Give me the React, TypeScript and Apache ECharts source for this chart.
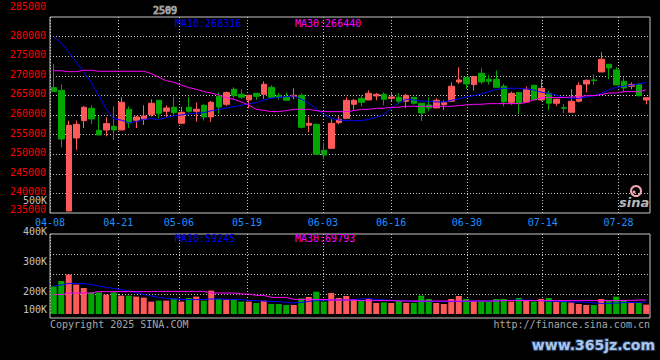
import React, { useEffect, useRef } from 'react';
import * as echarts from 'echarts';

const title = '2509';

const dates = [
  '04-08','04-09','04-10','04-11','04-14','04-15','04-16','04-17','04-18','04-21',
  '04-22','04-23','04-24','04-25','04-28','04-29','04-30','05-06','05-07','05-08',
  '05-09','05-12','05-13','05-14','05-15','05-16','05-19','05-20','05-21','05-22',
  '05-23','05-26','05-27','05-28','05-29','05-30','06-03','06-04','06-05','06-06',
  '06-09','06-10','06-11','06-12','06-13','06-16','06-17','06-18','06-19','06-20',
  '06-23','06-24','06-25','06-26','06-27','06-30','07-01','07-02','07-03','07-04',
  '07-07','07-08','07-09','07-10','07-11','07-14','07-15','07-16','07-17','07-18',
  '07-21','07-22','07-23','07-24','07-25','07-28','07-29','07-30','07-31','08-01',
];

const tickDates = ['04-08','04-21','05-06','05-19','06-03','06-16','06-30','07-14','07-28'];

const priceMin = 235000;
const priceMax = 285000;
const priceStep = 5000;

const volTickLabels = ['500K', '400K', '300K', '200K', '100K'];

// [open, close, low, high]
const candles = [
  [266990, 265970, 265970, 273020],
  [266300, 253880, 251760, 267840],
  [235510, 257370, 235510, 258560],
  [254140, 257630, 251080, 258560],
  [258560, 261970, 256690, 262300],
  [261710, 258990, 257710, 262480],
  [256100, 254900, 254900, 259750],
  [256180, 257800, 254560, 259410],
  [257120, 256180, 253630, 262220],
  [256180, 263240, 256180, 264520],
  [261460, 257970, 256690, 262220],
  [258650, 259500, 256690, 259750],
  [258900, 259750, 257460, 262480],
  [260090, 262990, 259580, 264010],
  [263750, 260430, 259160, 263750],
  [260950, 261800, 259410, 262480],
  [261970, 260600, 260090, 264600],
  [257880, 260690, 257880, 262140],
  [261970, 260950, 260600, 264600],
  [260950, 261460, 258310, 263160],
  [262480, 259500, 258560, 262740],
  [259500, 263240, 258220, 263580],
  [264770, 262050, 260350, 265790],
  [262730, 265710, 262310, 265960],
  [266560, 264940, 264260, 267070],
  [265280, 264520, 264180, 266560],
  [263840, 265030, 261710, 265030],
  [265540, 264770, 263840, 265540],
  [265280, 267840, 264090, 268600],
  [267070, 264520, 264520, 267580],
  [264940, 264520, 263920, 265620],
  [264690, 263750, 263750, 265710],
  [264690, 265030, 264010, 266810],
  [265030, 256860, 256610, 265540],
  [257370, 257880, 255590, 259580],
  [257630, 249970, 249970, 257630],
  [250990, 249800, 248690, 252950],
  [251500, 257880, 251330, 258900],
  [258050, 258900, 257630, 259670],
  [259160, 263750, 259160, 264520],
  [262730, 263750, 261280, 264090],
  [264260, 263240, 262220, 265030],
  [263840, 265540, 263840, 266300],
  [264860, 265280, 263750, 265620],
  [265280, 264010, 262480, 265790],
  [264260, 264600, 263500, 265790],
  [264520, 263500, 262820, 265540],
  [263500, 265030, 261800, 265370],
  [264520, 262990, 262650, 264520],
  [262990, 260520, 258480, 262990],
  [262560, 261800, 260950, 264520],
  [261800, 263750, 261800, 264260],
  [262650, 263160, 261280, 263750],
  [263500, 267330, 263500, 268350],
  [268430, 268940, 267920, 272170],
  [269620, 267920, 266640, 269620],
  [267750, 269790, 266220, 269790],
  [270640, 268430, 267920, 271920],
  [269110, 268600, 267750, 270130],
  [269110, 267070, 267070, 271410],
  [267330, 263330, 262220, 267920],
  [263240, 265540, 262650, 265960],
  [265710, 262990, 260260, 265880],
  [263330, 266560, 263330, 267240],
  [267580, 263840, 263840, 267580],
  [263840, 266810, 263500, 269110],
  [265540, 262990, 261200, 266220],
  [262990, 264010, 262310, 264180],
  [261880, 261710, 260430, 262730],
  [260690, 263500, 260690, 266560],
  [263500, 267580, 263240, 268350],
  [267920, 268860, 265790, 269030],
  [268940, 268770, 267750, 270390],
  [270980, 274220, 270980, 276000],
  [272940, 272000, 269200, 272940],
  [271490, 267670, 267670, 272170],
  [268600, 266900, 265790, 269620],
  [267330, 267750, 266560, 268350],
  [267750, 264940, 264690, 268090],
  [263840, 264430, 262730, 264430],
];

const ma10 = [
  280000, 278300, 276000, 273500, 271000, 268300, 265000, 261500, 259000, 258700,
  258000, 258300, 258900, 259070, 258800, 259410, 259750, 260000, 260350, 260430,
  260600, 261100, 261370, 261800, 262140, 262470, 262820, 263150, 263840, 264260,
  264520, 264690, 264860, 264010, 262990, 261540, 260090, 259160, 258730, 258560,
  258560, 258560, 258900, 259410, 260090, 261710, 263070, 264010, 263840, 263580,
  263500, 263330, 263330, 263750, 264090, 264600, 264940, 265370, 265960, 266560,
  266810, 266810, 266810, 266640, 266390, 265800, 265540, 265030, 264520, 264260,
  264260, 264520, 264940, 265540, 266390, 267070, 267320, 267580, 267920, 268316,
];

const ma30 = [
  271300, 271300, 271050, 271050, 271400, 271400, 271150, 271150, 271150, 271150,
  271150, 271150, 271150, 270560, 269620, 268770, 268350, 267660, 266980, 266560,
  265960, 265620, 265110, 264430, 264010, 263330, 262560, 261450, 261200, 260860,
  260860, 261110, 261450, 261450, 261450, 261110, 260860, 260860, 260860, 260860,
  261110, 261450, 261450, 261710, 261710, 261960, 261960, 262220, 262220, 262220,
  262220, 262220, 262220, 262220, 262390, 262560, 262730, 262730, 262900, 262900,
  262900, 262900, 262900, 263160, 263840, 264350, 264430, 264430, 264430, 264600,
  264600, 264940, 264940, 265200, 265620, 265620, 265960, 265960, 265960, 266440,
];

const volumes = [
  138000, 165000, 197000, 147000, 130000, 108000, 108000, 97000, 108000, 92000,
  92000, 87000, 82000, 62000, 67000, 67000, 77000, 62000, 80000, 87000,
  67000, 117000, 75000, 72000, 75000, 62000, 62000, 55000, 67000, 50000,
  50000, 45000, 45000, 78000, 85000, 112000, 62000, 105000, 80000, 90000,
  72000, 67000, 75000, 55000, 58000, 55000, 67000, 55000, 55000, 92000,
  75000, 55000, 50000, 75000, 90000, 75000, 62000, 63000, 62000, 75000,
  75000, 62000, 80000, 67000, 62000, 75000, 80000, 62000, 62000, 58000,
  50000, 45000, 45000, 75000, 67000, 87000, 70000, 55000, 55000, 47000,
];

const volMa10 = [
  140000, 145000, 153000, 153000, 152000, 147000, 140000, 133000, 128000, 122000,
  115000, 107000, 98000, 90000, 83000, 78000, 75000, 73000, 72000, 72000,
  73000, 75000, 75000, 73000, 73000, 72000, 68000, 67000, 65000, 63000,
  62000, 58000, 55000, 58000, 63000, 67000, 68000, 70000, 70000, 70000,
  72000, 75000, 77000, 72000, 70000, 68000, 67000, 65000, 63000, 63000,
  63000, 62000, 62000, 62000, 63000, 63000, 65000, 65000, 65000, 65000,
  67000, 68000, 70000, 70000, 68000, 67000, 63000, 63000, 62000, 60000,
  60000, 58000, 55000, 53000, 53000, 55000, 57000, 58000, 58000, 59245,
];

const volMa30 = [
  97000, 97000, 105000, 105000, 105000, 105000, 112000, 112000, 112000, 112000,
  112000, 112000, 112000, 112000, 113000, 113000, 113000, 113000, 113000, 113000,
  113000, 105000, 105000, 105000, 105000, 100000, 100000, 93000, 93000, 83000,
  83000, 83000, 73000, 73000, 73000, 73000, 73000, 70000, 70000, 70000,
  70000, 67000, 67000, 67000, 67000, 67000, 65000, 65000, 65000, 65000,
  65000, 65000, 65000, 65000, 65000, 65000, 65000, 65000, 65000, 65000,
  67000, 67000, 67000, 67000, 67000, 67000, 67000, 67000, 67000, 67000,
  67000, 67000, 67000, 67000, 67000, 67000, 68000, 68000, 69000, 69793,
];

const RED = '#ff5a5a';
const GREEN = '#00a800';
const GRID = '#c8c8c8';
const MONO = '"DejaVu Sans Mono", monospace';

export default function App() {
  const ref = useRef<HTMLDivElement>(null);

  useEffect(() => {
    document.body.style.margin = '0';
    document.body.style.background = '#000';
    const chart = echarts.init(ref.current!, null, { renderer: 'svg' });

    const tickIdx = tickDates.map((d) => dates.indexOf(d));
    const slotMax = 600 / 7.58;
    const dotted = { color: GRID, type: [1, 2] as any, width: 1 };
    const last = (a: number[]) => a[a.length - 1];

    const volData = volumes.map((v, i) => ({
      value: v,
      itemStyle: { color: candles[i][1] >= candles[i][0] ? RED : GREEN },
    }));

    const txt = (text: string, x: number, y: number, fill: string, align = 'left', extra: any = {}) => ({
      type: 'text',
      x,
      y,
      silent: true,
      z: 10,
      style: {
        text,
        fill,
        font: `10px ${MONO}`,
        textAlign: align,
        align,
        textVerticalAlign: 'middle',
        verticalAlign: 'middle',
        ...extra,
      },
    });

    const richBase = { color: '#ff0000', fontFamily: MONO, fontSize: 10 };

    const option: any = {
      animation: false,
      backgroundColor: '#000',
      grid: [
        {
          left: 50, top: 17, width: 600, height: 196,
          show: true, borderColor: GRID, borderWidth: 1, backgroundColor: 'transparent',
          outerBoundsMode: 'none', containLabel: false,
        },
        {
          left: 50, top: 234, width: 600, height: 80,
          show: false, outerBoundsMode: 'none', containLabel: false,
        },
      ],
      xAxis: [
        {
          type: 'category', gridIndex: 0, data: dates, boundaryGap: true,
          axisLine: { show: false }, axisTick: { show: false }, axisLabel: { show: false },
          splitLine: { show: false },
        },
        {
          type: 'value', gridIndex: 0, min: 0, max: slotMax, position: 'bottom',
          axisLine: { show: false },
          axisTick: { show: false, customValues: tickIdx },
          axisLabel: {
            customValues: tickIdx,
            formatter: (v: number) => dates[Math.round(v)],
            color: '#1e90ff', fontFamily: MONO, fontSize: 10, margin: 4,
          },
          splitLine: { show: true, lineStyle: dotted },
        },
        {
          type: 'category', gridIndex: 1, data: dates, boundaryGap: true,
          axisLine: { show: false }, axisTick: { show: false }, axisLabel: { show: false },
          splitLine: { show: false },
        },
        {
          type: 'value', gridIndex: 1, min: 0, max: slotMax,
          axisLine: { show: false },
          axisTick: { show: false, customValues: tickIdx },
          axisLabel: { show: false, customValues: tickIdx },
          splitLine: { show: true, lineStyle: dotted },
        },
      ],
      yAxis: [
        {
          type: 'value', gridIndex: 0, min: priceMin, max: priceMax, interval: priceStep,
          axisLine: { show: false }, axisTick: { show: false },
          axisLabel: {
            margin: 4,
            showMinLabel: true,
            showMaxLabel: true,
            formatter: (v: number) =>
              v === priceMax ? `{top|${v}}` : v === priceMin ? `{bot|${v}}` : `{n|${v}}`,
            rich: {
              top: { ...richBase, padding: [0, 0, 22, 0] },
              bot: { ...richBase, padding: [0, 0, 8, 0] },
              n: { ...richBase, padding: [0, 0, 3, 0] },
            },
          },
          splitLine: { show: true, showMinLine: false, showMaxLine: false, lineStyle: dotted },
        },
        {
          type: 'value', gridIndex: 1, min: 0, max: 400000, interval: 100000,
          axisLine: { show: false }, axisTick: { show: false }, axisLabel: { show: false },
          splitLine: { show: true, showMinLine: false, showMaxLine: false, lineStyle: dotted },
        },
      ],
      series: [
        {
          type: 'candlestick', xAxisIndex: 0, yAxisIndex: 0, data: candles, barWidth: 6,
          itemStyle: { color: RED, color0: GREEN, borderColor: RED, borderColor0: GREEN, borderWidth: 1 },
          z: 2,
        },
        {
          type: 'line', xAxisIndex: 0, yAxisIndex: 0, data: ma10, symbol: 'none', showSymbol: false,
          lineStyle: { color: '#0000ff', width: 1 }, z: 3,
        },
        {
          type: 'line', xAxisIndex: 0, yAxisIndex: 0, data: ma30, symbol: 'none', showSymbol: false,
          lineStyle: { color: '#ff00ff', width: 1 }, z: 3,
        },
        {
          type: 'bar', xAxisIndex: 2, yAxisIndex: 1, data: volData, barWidth: 6, z: 2,
        },
        {
          type: 'line', xAxisIndex: 2, yAxisIndex: 1, data: volMa10, symbol: 'none', showSymbol: false,
          lineStyle: { color: '#0000ff', width: 1 }, z: 3,
        },
        {
          type: 'line', xAxisIndex: 2, yAxisIndex: 1, data: volMa30, symbol: 'none', showSymbol: false,
          lineStyle: { color: '#ff00ff', width: 1 }, z: 3,
        },
      ],
      graphic: [
        {
          type: 'rect', silent: true, z: 1,
          shape: { x: 50, y: 234, width: 600, height: 84 },
          style: { fill: 'none', stroke: GRID, lineWidth: 1 },
        },
        txt(title, 165, 10, '#9a9a9a', 'center', { stroke: '#e8e8e8', lineWidth: 0.6 }),
        txt(`MA10:${last(ma10)}`, 175, 23, '#0000ff'),
        txt(`MA30:${last(ma30)}`, 295, 23, '#ff00ff'),
        txt(`MA10:${last(volMa10)}`, 175, 238, '#0000ff'),
        txt(`MA30:${last(volMa30)}`, 295, 238, '#ff00ff'),
        ...volTickLabels.map((t, i) => txt(t, 47, [200, 231, 261, 291, 309][i], '#c0c0c0', 'right')),
        txt('Copyright 2025 SINA.COM', 50, 324, '#a8a8a8'),
        txt('http://finance.sina.com.cn', 650, 324, '#a8a8a8', 'right'),
        {
          type: 'circle', silent: true, z: 10,
          shape: { cx: 636, cy: 191, r: 5 },
          style: { fill: 'none', stroke: '#f2a8b0', lineWidth: 2 },
        },
        {
          type: 'circle', silent: true, z: 10,
          shape: { cx: 634, cy: 192, r: 1.5 },
          style: { fill: '#f2a8b0' },
        },
        txt('sina', 619, 202, '#b8b8b8', 'left', { font: `italic bold 13px "DejaVu Sans", sans-serif` }),
        txt('www.365jz.com', 655, 345, '#a9c6ea', 'right', {
          font: `bold 14px "DejaVu Sans", sans-serif`,
          stroke: '#23395a',
          lineWidth: 2,
        }),
      ],
    };

    chart.setOption(option);
    return () => chart.dispose();
  }, []);

  return (
    <div
      ref={ref}
      style={{ position: 'fixed', left: 0, top: 0, width: 660, height: 360, background: '#000' }}
    />
  );
}
